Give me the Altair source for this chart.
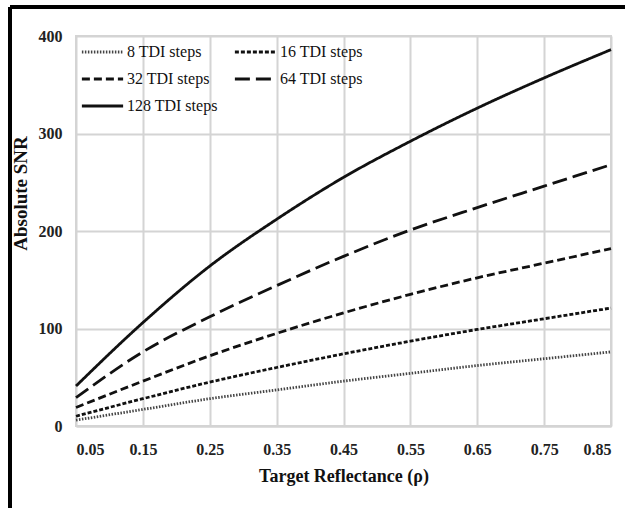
import altair as alt
import pandas as pd

rho = [0.05, 0.15, 0.25, 0.35, 0.45, 0.55, 0.65, 0.75, 0.85]
snr_8 = [6, 17, 28, 37, 46, 54, 62, 69, 76]
snr_16 = [10, 28, 45, 60, 74, 87, 99, 110, 121]
snr_32 = [19, 46, 72, 95, 116, 135, 152, 167, 182]
snr_64 = [29, 76, 112, 144, 174, 201, 224, 246, 268]
snr_128 = [41, 106, 164, 212, 255, 292, 326, 357, 386]
series = ["8 TDI steps", "16 TDI steps", "32 TDI steps", "64 TDI steps", "128 TDI steps"]
x_ticks = [0.05, 0.15, 0.25, 0.35, 0.45, 0.55, 0.65, 0.75, 0.85]
y_ticks = [0, 100, 200, 300, 400]

rows = []
for name, vals in zip(series, [snr_8, snr_16, snr_32, snr_64, snr_128]):
    for r, v in zip(rho, vals):
        rows.append({"rho": r, "snr": v, "series": name})
df = pd.DataFrame(rows)

FONT = "Liberation Serif"
GRID = "#d4d4d4"

legend = alt.Legend(
    orient="none", legendX=4, legendY=8, columns=2, direction="horizontal", title=None,
    symbolType="stroke", symbolSize=1700, symbolStrokeWidth=2.8, clipHeight=16,
    labelFont=FONT, labelFontSize=16, labelColor="#111", labelOffset=2,
    rowPadding=11, columnPadding=15, padding=0,
)

lines = alt.Chart(df).mark_line(interpolate="monotone", strokeWidth=2.8).encode(
    x=alt.X("rho:Q", scale=alt.Scale(domain=[0.05, 0.85], nice=False, zero=False),
            axis=alt.Axis(values=x_ticks, format=".2f", title="Target Reflectance (ρ)",
                          labelFont=FONT, labelFontSize=16, labelFontWeight="bold", labelColor="#222",
                          labelPadding=15, labelOverlap=False, ticks=False,
                          titleFont=FONT, titleFontSize=18, titleFontWeight="bold", titleColor="#111",
                          titlePadding=10, grid=True, gridColor=GRID, gridWidth=2,
                          domainColor=GRID, domainWidth=2)),
    y=alt.Y("snr:Q", scale=alt.Scale(domain=[0, 400], nice=False),
            axis=alt.Axis(values=y_ticks, title="Absolute SNR",
                          labelFont=FONT, labelFontSize=16, labelFontWeight="bold", labelColor="#222",
                          labelPadding=14, ticks=False, domain=False,
                          titleFont=FONT, titleFontSize=19, titleFontWeight="bold", titleColor="#111",
                          titlePadding=8, titleY=157, grid=True, gridColor=GRID, gridWidth=2)),
    strokeDash=alt.StrokeDash("series:N", sort=series,
                              scale=alt.Scale(domain=series,
                                              range=[[1.5, 1.5], [4, 2], [8, 4], [15, 6], [1, 0]]),
                              legend=legend),
    color=alt.Color("series:N", sort=series,
                    scale=alt.Scale(domain=series,
                                    range=["#444444", "#111111", "#111111", "#111111", "#111111"]),
                    legend=legend),
    detail="series:N",
)

frame_top = alt.Chart(df).mark_rule(color="black", strokeWidth=2.5).encode(
    x=alt.value(-66), x2=alt.value(549), y=alt.value(-29))
frame_left = alt.Chart(df).mark_rule(color="black", strokeWidth=2.5).encode(
    x=alt.value(-66), y=alt.value(-29), y2=alt.value(472))

chart = alt.layer(lines, frame_top, frame_left).properties(
    width=535, height=390,
    autosize=alt.AutoSizeParams(type="none"),
    padding={"left": 76, "top": 36, "right": 14, "bottom": 82},
    background="white",
).configure(font=FONT).configure_view(stroke=GRID, strokeWidth=2).configure_legend(
    labelFont=FONT
).configure_axis(labelFont=FONT, titleFont=FONT)

chart.save("out.html", embed_options={"renderer": "svg", "actions": False})
